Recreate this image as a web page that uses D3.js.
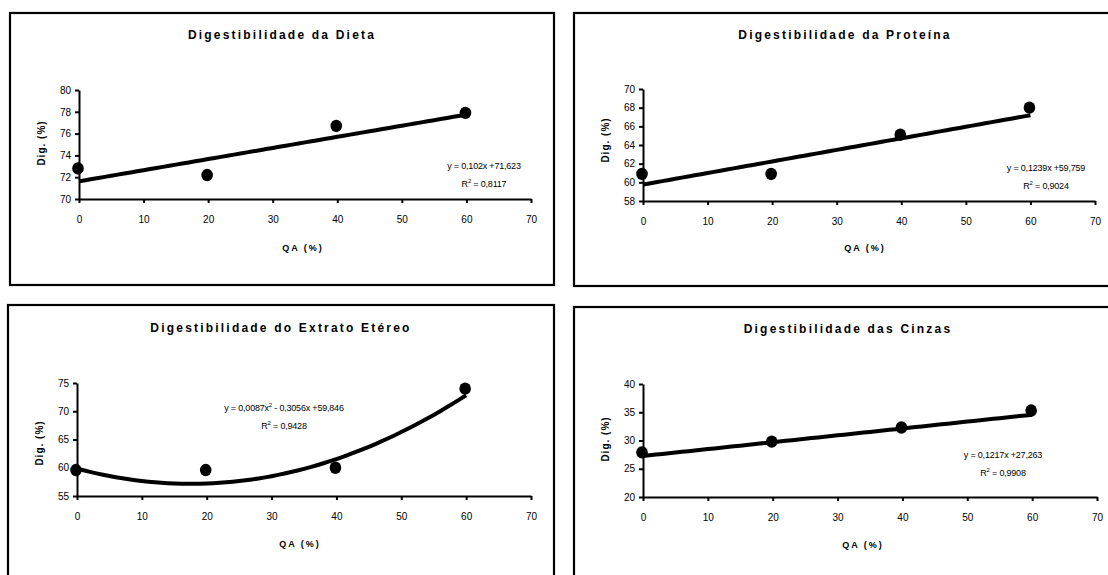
<!DOCTYPE html>
<html><head><meta charset="utf-8">
<script src="https://cdn.jsdelivr.net/npm/d3@7"></script>
<style>body{margin:0;background:#fff}svg{display:block}text{font-family:"Liberation Sans",Arial,sans-serif;fill:#000}</style>
</head><body>
<svg id="c" width="1108" height="575"></svg>
<script>
// ---- data ----
const xTicks = [0, 10, 20, 30, 40, 50, 60, 70];
const doses = [0, 20, 40, 60];
const titles = ["Digestibilidade da Dieta", "Digestibilidade da Proteína", "Digestibilidade do Extrato Etéreo", "Digestibilidade das Cinzas"];
const dietaValues = [72.8, 72.2, 76.7, 77.9];
const proteinaValues = [60.9, 60.9, 65.1, 68.0];
const extratoValues = [59.6, 59.6, 60.0, 74.0];
const cinzasValues = [27.9, 29.8, 32.3, 35.3];
const dietaYTicks = [70, 72, 74, 76, 78, 80];
const proteinaYTicks = [58, 60, 62, 64, 66, 68, 70];
const extratoYTicks = [55, 60, 65, 70, 75];
const cinzasYTicks = [20, 25, 30, 35, 40];
// trend coefficients [x², x, const]
const dietaTrend = [0, 0.102, 71.623];
const proteinaTrend = [0, 0.1239, 59.759];
const extratoTrend = [0.0087, -0.3056, 59.846];
const cinzasTrend = [0, 0.1217, 27.263];
const equations = [
  [["y = 0,102x +71,623"]],
  [["y = 0,1239x +59,759"]],
  [["y = 0,0087x", ""], ["2", "sup"], [" - 0,3056x +59,846", ""]],
  [["y = 0,1217x +27,263"]]
];
const r2Labels = ["0,8117", "0,9024", "0,9428", "0,9908"];
const yLabel = "Dig. (%)";
const xLabel = "QA (%)";

// ---- layout ----
const panels = [
  {vals: dietaValues, yt: dietaYTicks, tr: dietaTrend,
   frame: [10, 13, 544, 272], ax: [79, 531, 90, 199], title: [282, 35], xl: [303, 248], eq: [484, 166], yl: [41, 143]},
  {vals: proteinaValues, yt: proteinaYTicks, tr: proteinaTrend,
   frame: [574, 13, 545, 273], ax: [643, 1095, 89, 201], title: [845, 35], xl: [865, 248], eq: [1046, 168], yl: [605, 140]},
  {vals: extratoValues, yt: extratoYTicks, tr: extratoTrend,
   frame: [8, 305, 546, 300], ax: [77, 531, 383, 496], title: [281, 328], xl: [300, 544], eq: [284, 408], yl: [39, 443]},
  {vals: cinzasValues, yt: cinzasYTicks, tr: cinzasTrend,
   frame: [574, 307, 545, 300], ax: [643, 1097, 384, 497], title: [848, 329], xl: [863, 545], eq: [1003, 455], yl: [605, 439]}
];

const svg = d3.select("#c");

panels.forEach((p, i) => {
  const g = svg.append("g");
  g.append("rect").attr("x", p.frame[0]).attr("y", p.frame[1]).attr("width", p.frame[2]).attr("height", p.frame[3])
    .attr("fill", "none").attr("stroke", "#000").attr("stroke-width", 2.2);

  const x = d3.scaleLinear().domain([0, 70]).range([p.ax[0], p.ax[1]]);
  const y = d3.scaleLinear().domain(d3.extent(p.yt)).range([p.ax[3], p.ax[2]]);

  const xa = g.append("g").attr("transform", `translate(0,${p.ax[3]})`)
    .call(d3.axisBottom(x).tickValues(xTicks).tickSize(4).tickSizeOuter(0).tickPadding(13));
  const ya = g.append("g").attr("transform", `translate(${p.ax[0]},0)`)
    .call(d3.axisLeft(y).tickValues(p.yt).tickSize(4).tickSizeOuter(0).tickPadding(4));
  [xa, ya].forEach(a => {
    a.select(".domain").attr("stroke", "#000").attr("stroke-width", 2);
    a.selectAll(".tick line").attr("stroke", "#000").attr("stroke-width", 2);
    a.selectAll(".tick text").attr("font-size", 10).attr("font-family", "Liberation Sans, Arial, sans-serif").attr("fill", "#000");
  });

  // trendline
  const xs = d3.range(0, 60.01, 1);
  const line = d3.line().x(d => x(d)).y(d => y(p.tr[0] * d * d + p.tr[1] * d + p.tr[2]));
  g.append("path").datum(xs).attr("d", line).attr("fill", "none").attr("stroke", "#000")
    .attr("stroke-width", 4).attr("stroke-linejoin", "round");

  // points
  g.selectAll("ellipse.pt").data(doses.map((d, k) => [d, p.vals[k]])).enter().append("ellipse")
    .attr("cx", d => x(d[0]) - 1).attr("cy", d => y(d[1])).attr("rx", 5.8).attr("ry", 6.2).attr("fill", "#000");

  // title
  g.append("text").attr("x", p.title[0]).attr("y", p.title[1]).attr("text-anchor", "middle").attr("dominant-baseline", "central")
    .attr("font-size", 12).attr("font-weight", "bold").attr("letter-spacing", 2.2).text(titles[i]);
  // x label
  g.append("text").attr("x", p.xl[0]).attr("y", p.xl[1]).attr("text-anchor", "middle").attr("dominant-baseline", "central")
    .attr("font-size", 9).attr("font-weight", "bold").attr("letter-spacing", 2).text(xLabel);
  // y label
  g.append("text").attr("transform", `translate(${p.yl[0]},${p.yl[1]}) rotate(-90)`).attr("text-anchor", "middle")
    .attr("dominant-baseline", "central").attr("font-size", 10).attr("font-weight", "bold")
    .attr("font-family", "DejaVu Sans, sans-serif").attr("letter-spacing", 1).text(yLabel);

  // equation
  const eq = g.append("text").attr("x", p.eq[0]).attr("y", p.eq[1]).attr("text-anchor", "middle")
    .attr("dominant-baseline", "central").attr("font-size", 9).attr("letter-spacing", -0.2);
  equations[i].forEach(part => {
    const t = eq.append("tspan").text(part[0]);
    if (part[1] === "sup") t.attr("font-size", 6).attr("baseline-shift", "super");
  });
  const r2 = g.append("text").attr("x", p.eq[0]).attr("y", p.eq[1] + 18).attr("text-anchor", "middle")
    .attr("dominant-baseline", "central").attr("font-size", 9).attr("letter-spacing", -0.2);
  r2.append("tspan").text("R");
  r2.append("tspan").attr("font-size", 6).attr("baseline-shift", "super").text("2");
  r2.append("tspan").text(" = " + r2Labels[i]);
});
</script>
</body></html>
